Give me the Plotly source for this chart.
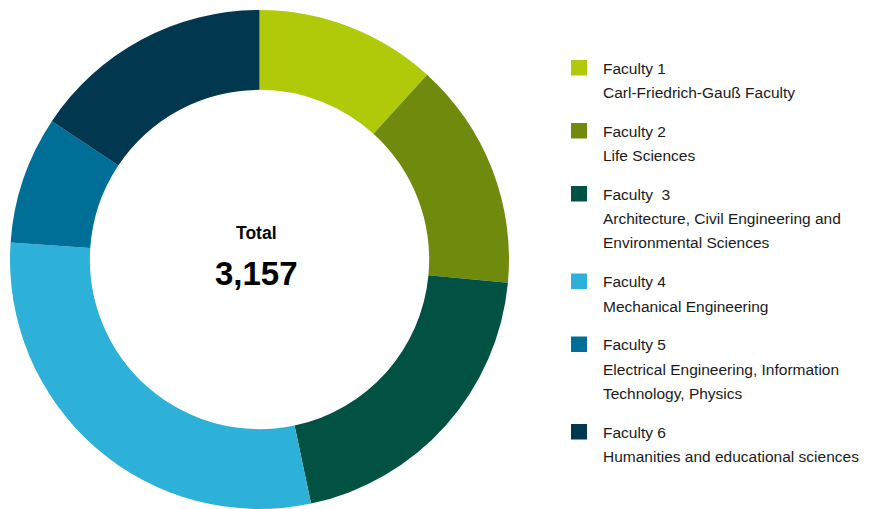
import plotly.graph_objects as go

# data
faculties = ["Faculty 1", "Faculty 2", "Faculty  3", "Faculty 4", "Faculty 5", "Faculty 6"]
descriptions = [
    ["Carl-Friedrich-Gauß Faculty"],
    ["Life Sciences"],
    ["Architecture, Civil Engineering and", "Environmental Sciences"],
    ["Mechanical Engineering"],
    ["Electrical Engineering, Information", "Technology, Physics"],
    ["Humanities and educational sciences"],
]
students = [370, 466, 638, 928, 261, 494]
colors = ["#b0ca0a", "#708a0e", "#025244", "#2db1d8", "#006f97", "#023750"]

# page body has an 8px margin, so the figure is a bit smaller than the window
OFF = 8
W, H = 869 - OFF, 509 - OFF
FONT = "Liberation Sans, Arial, sans-serif"


def px_x(x):
    return (x - OFF) / W


def px_y(y):
    return 1 - (y - OFF) / H


fig = go.Figure(go.Pie(
    labels=faculties,
    values=students,
    marker=dict(colors=colors, line=dict(width=0)),
    hole=0.68,
    sort=False,
    direction="clockwise",
    rotation=0,
    textinfo="none",
    hoverinfo="label+value",
    showlegend=False,
    domain=dict(x=[px_x(10), px_x(509)], y=[0, px_y(10)]),
))

total = sum(students)
annotations = [
    dict(text="<b>Total</b>", x=px_x(256.5), y=px_y(233), xref="paper", yref="paper",
         xanchor="center", yanchor="middle",
         showarrow=False, font=dict(size=17.5, color="#000", family=FONT)),
    dict(text=f"<b>{total:,}</b>", x=px_x(256), y=px_y(273), xref="paper", yref="paper",
         xanchor="center", yanchor="middle",
         showarrow=False, font=dict(size=33, color="#000", family=FONT)),
]
shapes = []

# custom legend on the right
line_h = 24.5
y = 68
for name, desc, col in zip(faculties, descriptions, colors):
    shapes.append(dict(type="rect", xref="paper", yref="paper",
                       x0=px_x(571), x1=px_x(587), y0=px_y(y - 8), y1=px_y(y + 7.5),
                       fillcolor=col, line=dict(width=0)))
    lines = [name] + desc
    for k, txt in enumerate(lines):
        annotations.append(dict(text=txt, x=px_x(601), y=px_y(y + k * line_h),
                                xref="paper", yref="paper", xanchor="left", yanchor="middle",
                                showarrow=False, font=dict(size=15.5, color="#1a1a1a", family=FONT)))
    y += line_h * len(lines) + 14

fig.update_layout(
    width=W, height=H,
    margin=dict(l=0, r=0, t=0, b=0),
    paper_bgcolor="white",
    plot_bgcolor="white",
    annotations=annotations,
    shapes=shapes,
)

fig.write_html("out.html")
